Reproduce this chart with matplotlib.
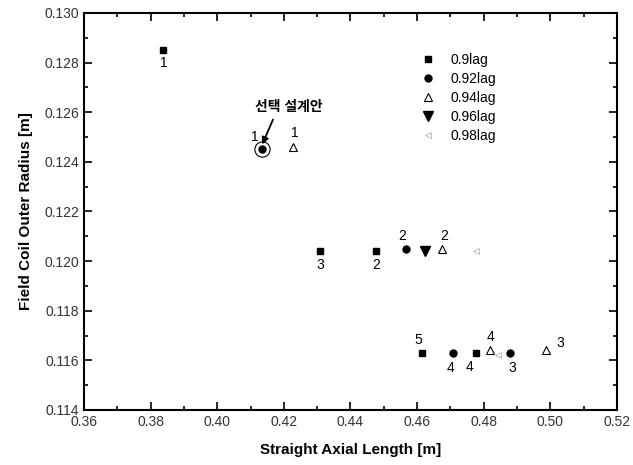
import numpy as np
import matplotlib
matplotlib.use('Agg')
import matplotlib.pyplot as plt
from matplotlib.ticker import MultipleLocator

plt.rcParams['font.family'] = ['Liberation Sans', 'Noto Sans CJK KR', 'DejaVu Sans']

#---------------- dati (design 1..n per ogni power factor)
pf090_x = [0.3836, 0.4478, 0.4308, 0.4778, 0.4616]
pf090_y = [0.1285, 0.1204, 0.1204, 0.1163, 0.1163]
pf090_n = ['1', '2', '3', '4', '5']

pf092_x = [0.4133, 0.4568, 0.4878, 0.4708]
pf092_y = [0.1245, 0.1205, 0.1163, 0.1163]
pf092_n = ['1', '2', '3', '4']

pf094_x = [0.4228, 0.4676, 0.4988, 0.4820]
pf094_y = [0.1246, 0.1205, 0.1164, 0.1164]
pf094_n = ['1', '2', '3', '4']

pf096_x = [0.4623]
pf096_y = [0.1204]

pf098_x = [0.4778, 0.4843]
pf098_y = [0.1204, 0.1162]

# scelta progettuale evidenziata
sel_x = 0.4133
sel_y = 0.1245
sel_text = '선택 설계안'

# offset (in punti) delle etichette numeriche
off090 = [(1, -9), (0, -10), (0, -10), (-5, -10), (-3, 9)]
off092 = [(-5, 9), (-3, 9), (2, -11), (-2, -11)]
off094 = [(1, 10), (1, 9), (10, 5), (0, 10)]

#---------------- grafico
fig = plt.figure(figsize=(6.33, 4.65), dpi=100)
ax = fig.add_axes([0.1327, 0.1183, 0.842, 0.854])

ax.plot(pf090_x, pf090_y, 's', color='black', markersize=5, label='0.9lag')
ax.plot(pf092_x, pf092_y, 'o', color='black', markersize=5, label='0.92lag')
ax.plot(pf094_x, pf094_y, '^', color='black', markerfacecolor='white',
        markersize=6, markeredgewidth=0.8, label='0.94lag')
ax.plot(pf096_x, pf096_y, 'v', color='black', markersize=6.5, label='0.96lag')
ax.plot(pf098_x, pf098_y, '<', color='#bbbbbb', markerfacecolor='white',
        markersize=5, markeredgewidth=0.7, label='0.98lag')

# anello attorno al design scelto
ax.plot(sel_x, sel_y, 'o', markerfacecolor='none', markeredgecolor='black',
        markersize=11, markeredgewidth=0.8, linestyle='none')

for xs, ys, ns, offs in [(pf090_x, pf090_y, pf090_n, off090),
                         (pf092_x, pf092_y, pf092_n, off092),
                         (pf094_x, pf094_y, pf094_n, off094)]:
    for x, y, n, o in zip(xs, ys, ns, offs):
        ax.annotate(n, (x, y), xytext=o, textcoords='offset points',
                    ha='center', va='center', fontsize=10)

ax.annotate(sel_text, xy=(sel_x + 0.0002, sel_y + 0.0002),
            xytext=(0.4215, 0.1262), ha='center', va='center',
            fontsize=10, fontweight='bold',
            arrowprops=dict(arrowstyle='-|>', color='black', lw=1.3,
                            shrinkA=2, shrinkB=0, mutation_scale=10,
                            relpos=(0.3, 0.0)))

ax.set_xlim(0.36, 0.52)
ax.set_ylim(0.114, 0.130)
ax.xaxis.set_major_locator(MultipleLocator(0.02))
ax.xaxis.set_minor_locator(MultipleLocator(0.01))
ax.yaxis.set_major_locator(MultipleLocator(0.002))
ax.yaxis.set_minor_locator(MultipleLocator(0.001))
ax.xaxis.set_major_formatter(plt.FormatStrFormatter('%.2f'))
ax.yaxis.set_major_formatter(plt.FormatStrFormatter('%.3f'))

ax.tick_params(which='both', direction='in', top=True, right=True,
               labelsize=10, labelcolor='#333333', width=1.2)
ax.tick_params(which='major', length=6)
ax.tick_params(which='minor', length=3)
for s in ax.spines.values():
    s.set_linewidth(1.5)

ax.set_xlabel('Straight Axial Length [m]', fontsize=11, fontweight='bold', labelpad=10)
ax.set_ylabel('Field Coil Outer Radius [m]', fontsize=11, fontweight='bold', labelpad=8)

ax.legend(loc='upper left', bbox_to_anchor=(0.596, 0.93), frameon=False,
          fontsize=10, handletextpad=0.6, labelspacing=0.35, numpoints=1)

fig.savefig('out.png', dpi=100)
